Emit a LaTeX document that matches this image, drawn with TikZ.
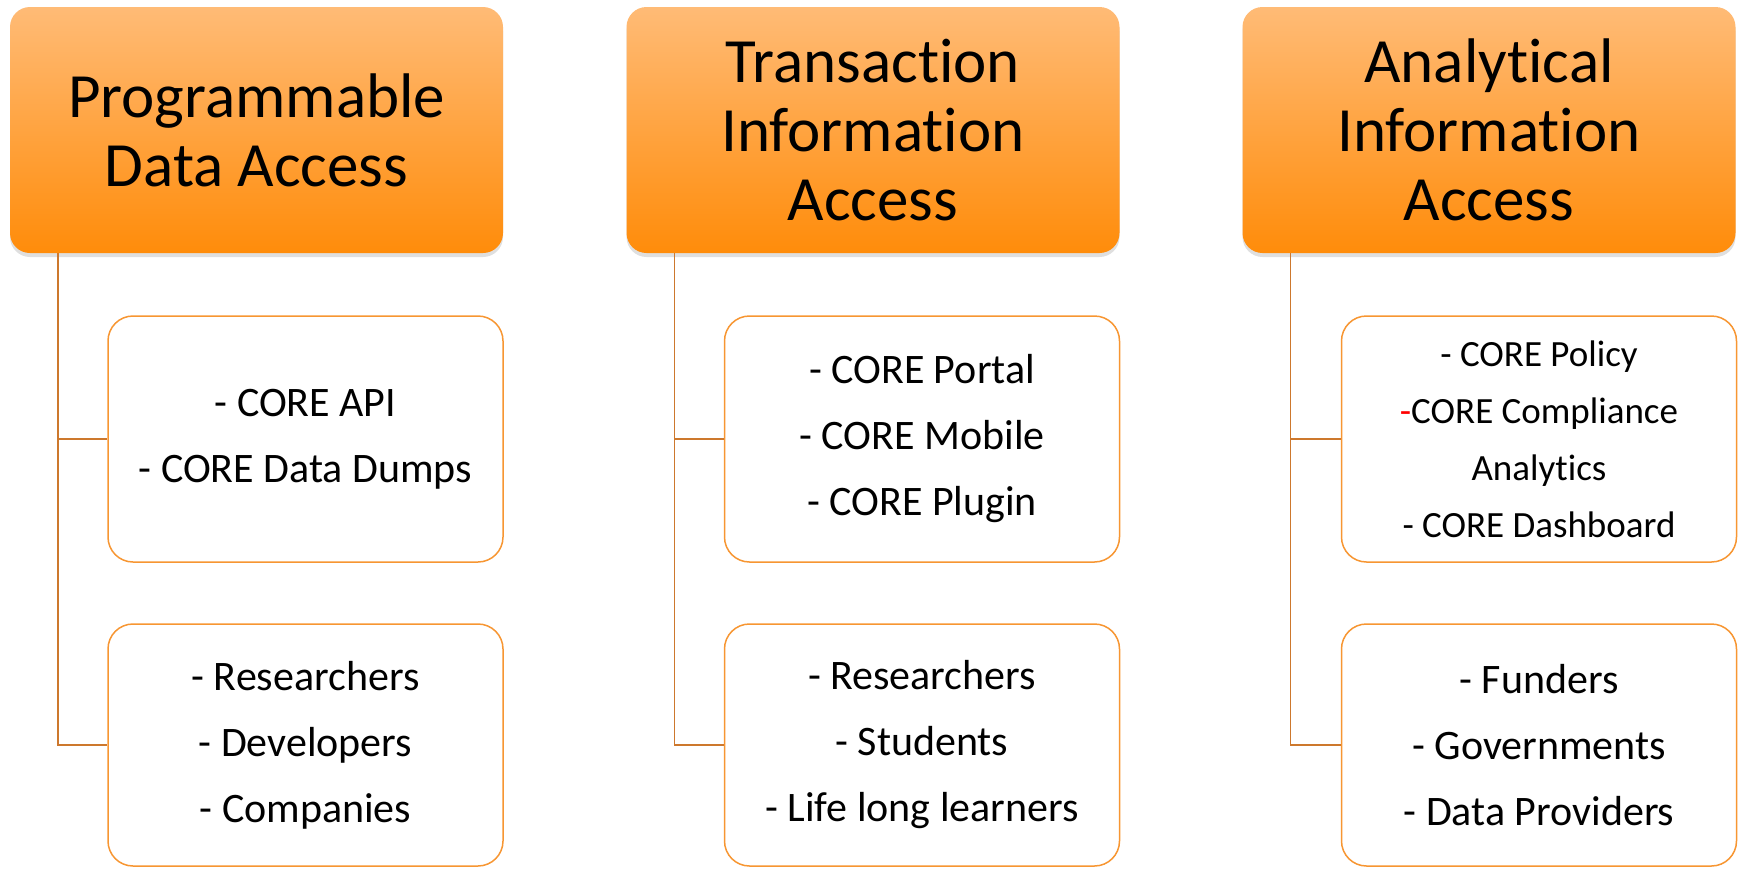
\documentclass[tikz,border=0pt]{standalone}
\usepackage{fontspec}
\setmainfont{Carlito}[Ligatures={NoCommon,NoContextual},Contextuals=NoAlternate]
\usepackage{xcolor}
\usetikzlibrary{shadows}

\definecolor{hdtop}{RGB}{255,187,118}
\definecolor{hdbot}{RGB}{255,140,10}
\definecolor{boxline}{RGB}{247,150,50}
\definecolor{connline}{RGB}{205,120,45}

\tikzset{
  header/.style={rounded corners=20pt, minimum width=493pt, minimum height=246pt,
    top color=hdtop, bottom color=hdbot, align=center,
    font=\fontsize{63}{69}\selectfont,
    drop shadow={opacity=0.25, shadow xshift=0pt, shadow yshift=-4pt}},
  item/.style={draw=boxline, line width=1.5pt, rounded corners=25pt, fill=white,
    minimum width=395pt, align=center, font=\fontsize{42}{66}\selectfont},
  conn/.style={draw=connline, line width=1.5pt}
}

\begin{document}
\begin{tikzpicture}[x=1pt,y=-1pt]
\useasboundingbox (0,0) rectangle (1741,868);
%% headers
\node[header] (h1) at (256.5,130) {Programmable\\Data Access};
\node[header] (h2) at (873,130) {Transaction\\Information\\Access};
\node[header] (h3) at (1489,130) {Analytical\\Information\\Access};
%% what is offered
\node[item, minimum height=246pt] (c1a) at (305.5,439) {- CORE API\\- CORE Data Dumps};
\node[item, minimum height=246pt] (c2a) at (922,439) {- CORE Portal\\- CORE Mobile\\- CORE Plugin};
\node[item, minimum height=246pt, font=\fontsize{37}{57}\selectfont] (c3a) at (1539,439)
  {- CORE Policy\\{\color{red}-}CORE Compliance\\Analytics\\- CORE Dashboard};
%% who uses it
\node[item, minimum height=242pt] (c1b) at (305.5,745) {- Researchers\\- Developers\\- Companies};
\node[item, minimum height=242pt] (c2b) at (922,745) {- Researchers\\- Students\\- Life long learners};
\node[item, minimum height=242pt] (c3b) at (1539,745) {- Funders\\- Governments\\- Data Providers};
%% connectors
\draw[conn] ([xshift=48pt]h1.south west) |- (c1a.west);
\draw[conn] ([xshift=48pt]h1.south west) |- (c1b.west);
\draw[conn] ([xshift=48pt]h2.south west) |- (c2a.west);
\draw[conn] ([xshift=48pt]h2.south west) |- (c2b.west);
\draw[conn] ([xshift=48pt]h3.south west) |- (c3a.west);
\draw[conn] ([xshift=48pt]h3.south west) |- (c3b.west);
\end{tikzpicture}
\end{document}
